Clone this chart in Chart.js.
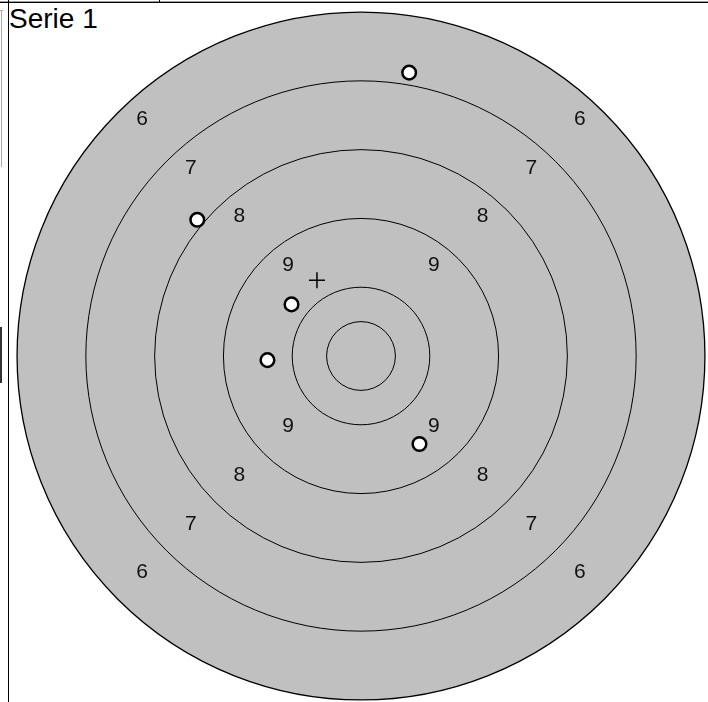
<!DOCTYPE html>
<html>
<head>
<meta charset="utf-8">
<script src="https://cdn.jsdelivr.net/npm/chart.js@4"></script>
<style>
  html, body { margin: 0; padding: 0; background: #fff; overflow: hidden; }
  body { width: 708px; height: 702px; position: relative; font-family: "Liberation Sans", Arial, sans-serif; }
  #target { position: absolute; left: 15px; top: 10px; width: 692px; height: 692px; }
  #title { position: absolute; left: 9px; top: 5px; font-size: 28px; line-height: 28px; color: #000; }
  .ln { position: absolute; background: #000; }
</style>
</head>
<body>
<div class="ln" style="left:0;top:1px;width:708px;height:1px;background:#999"></div>
<div class="ln" style="left:0;top:2px;width:708px;height:1px"></div>
<div class="ln" style="left:159px;top:0;width:1px;height:3px"></div>
<div class="ln" style="left:8px;top:0;width:1px;height:702px"></div>
<div class="ln" style="left:1px;top:10px;width:1px;height:157px;background:#aaa"></div>
<div class="ln" style="left:0;top:10px;width:3px;height:1px;background:#aaa"></div>
<div class="ln" style="left:0;top:327px;width:2px;height:56px;background:#333"></div>
<div id="title">Serie 1</div>
<div id="target"><canvas id="chartCanvas"></canvas></div>
<script>
// ring radii (target units), outermost first
const ringRadii = [50, 40, 30, 20, 10, 5];
// ring score labels and the radius they sit at
const ringLabels = ['6', '7', '8', '9'];
const labelRadii = [45, 35, 25, 15];

// shots, target units from the centre
const shotX = [7.0, -23.8, -10.1, -13.6, 8.5];
const shotY = [41.2, 19.8, 7.5, -0.6, -12.8];

const shots = shotX.map((x, i) => ({ x: x, y: shotY[i] }));
const meanPoint = [{
  x: shotX.reduce((a, b) => a + b, 0) / shotX.length,
  y: shotY.reduce((a, b) => a + b, 0) / shotY.length
}];

const targetPlugin = {
  id: 'targetRings',
  beforeDatasetsDraw(chart) {
    const ctx = chart.ctx;
    const xs = chart.scales.x, ys = chart.scales.y;
    const cx = xs.getPixelForValue(0), cy = ys.getPixelForValue(0);
    const unit = xs.getPixelForValue(1) - cx;
    ctx.save();
    ringRadii.forEach((r, i) => {
      ctx.beginPath();
      ctx.arc(cx, cy, r * unit, 0, Math.PI * 2);
      if (i === 0) {
        ctx.fillStyle = '#c0c0c0';
        ctx.fill();
      }
      ctx.lineWidth = i === 0 ? 1.3 : 1;
      ctx.strokeStyle = '#000';
      ctx.stroke();
    });
    // score numbers on the diagonals
    ctx.fillStyle = '#111';
    ctx.font = '21px "Liberation Sans", Arial, sans-serif';
    ctx.textAlign = 'center';
    ctx.textBaseline = 'middle';
    ringLabels.forEach((lab, i) => {
      const d = labelRadii[i] * Math.SQRT1_2;
      [[-1, 1], [1, 1], [-1, -1], [1, -1]].forEach(([sx, sy]) => {
        const px = xs.getPixelForValue(sx * d);
        const py = ys.getPixelForValue(sy * d) + (sy > 0 ? -18 : -2.5);
        ctx.fillText(lab, px, py);
      });
    });
    ctx.restore();
  }
};

new Chart(document.getElementById('chartCanvas'), {
  type: 'scatter',
  data: {
    datasets: [
      {
        label: 'Serie 1',
        data: shots,
        pointStyle: 'circle',
        pointRadius: 6.8,
        pointHoverRadius: 6.8,
        pointBackgroundColor: '#fff',
        pointBorderColor: '#000',
        pointBorderWidth: 2.5
      },
      {
        label: 'mean',
        data: meanPoint,
        pointStyle: 'cross',
        pointRadius: 8,
        pointHoverRadius: 8,
        pointBorderColor: '#000',
        pointBorderWidth: 1.5
      }
    ]
  },
  options: {
    responsive: true,
    maintainAspectRatio: false,
    animation: false,
    layout: { padding: 0, autoPadding: false },
    scales: {
      x: { type: 'linear', min: -50.3, max: 50.3, display: false },
      y: { type: 'linear', min: -50.3, max: 50.3, display: false }
    },
    plugins: {
      legend: { display: false },
      tooltip: { enabled: false },
      title: { display: false }
    }
  },
  plugins: [targetPlugin]
});
</script>
</body>
</html>
